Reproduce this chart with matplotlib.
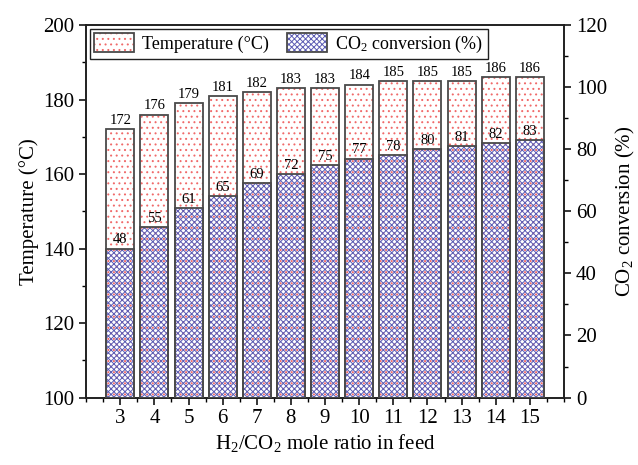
import matplotlib
matplotlib.use("Agg")
import matplotlib.pyplot as plt
from matplotlib.patches import Patch
from matplotlib.ticker import MultipleLocator
from matplotlib.legend_handler import HandlerTuple

plt.rcParams['font.family'] = ['Liberation Serif', 'DejaVu Serif']
plt.rcParams['mathtext.fontset'] = 'custom'
plt.rcParams['mathtext.rm'] = 'Liberation Serif'
plt.rcParams['mathtext.it'] = 'Liberation Serif:italic'
plt.rcParams['hatch.linewidth'] = 0.7

ratios = [3, 4, 5, 6, 7, 8, 9, 10, 11, 12, 13, 14, 15]
temperature = [172, 176, 179, 181, 182, 183, 183, 184, 185, 185, 185, 186, 186]
conversion = [48, 55, 61, 65, 69, 72, 75, 77, 78, 80, 81, 82, 83]

red = '#f06a6a'
blue = '#5c5cb4'
edge = '#4a4a4a'
width = 0.82
red_hatch = '...'
blue_hatch = 'xxxxxx'

fig = plt.figure(figsize=(6.38, 4.65), dpi=100)
ax = fig.add_axes([0.135, 0.145, 0.749, 0.801])
ax2 = ax.twinx()

# temperature bars (left axis, from 100)
tb = [t - 100 for t in temperature]
ax.bar(ratios, tb, bottom=100, width=width, facecolor='white',
       edgecolor=red, hatch=red_hatch, linewidth=0, zorder=2)
ax.bar(ratios, tb, bottom=100, width=width, facecolor='none',
       edgecolor=edge, linewidth=1.3, zorder=3)
for x, t in zip(ratios, temperature):
    ax.text(x, t + 0.6, str(t), ha='center', va='bottom', fontsize=10.5, zorder=6)

# conversion bars (right axis)
ax2.bar(ratios, conversion, width=width, facecolor='none',
        edgecolor=blue, hatch=blue_hatch, linewidth=0, zorder=2)
ax2.bar(ratios, conversion, width=width, facecolor='none',
        edgecolor=edge, linewidth=1.3, zorder=3)
for x, c in zip(ratios, conversion):
    ax2.text(x, c + 0.7, str(c), ha='center', va='bottom', fontsize=10.5, zorder=6)

ax.set_xlim(2, 16)
ax.set_ylim(100, 200)
ax2.set_ylim(0, 120)
ax.set_xticks(ratios)
ax.xaxis.set_minor_locator(MultipleLocator(0.5))
ax.yaxis.set_major_locator(MultipleLocator(20))
ax.yaxis.set_minor_locator(MultipleLocator(10))
ax2.yaxis.set_major_locator(MultipleLocator(20))
ax2.yaxis.set_minor_locator(MultipleLocator(10))

for a in (ax, ax2):
    a.tick_params(which='major', direction='out', length=5, width=1.1, labelsize=15)
    a.tick_params(which='minor', direction='out', length=3, width=1.0)
    for s in a.spines.values():
        s.set_linewidth(1.2)
        s.set_color('#202020')
ax.tick_params(axis='x', which='major', pad=3)

ax.set_xlabel(r'H$_2$/CO$_2$ mole ratio in feed', fontsize=15, labelpad=3)
ax.set_ylabel('Temperature (°C)', fontsize=15, labelpad=3)
ax2.set_ylabel(r'CO$_2$ conversion (%)', fontsize=15, labelpad=5)

h1 = (Patch(facecolor='white', edgecolor=red, hatch=red_hatch, linewidth=0),
      Patch(facecolor='none', edgecolor=edge, linewidth=1.3))
h2 = (Patch(facecolor='none', edgecolor=blue, hatch=blue_hatch, linewidth=0),
      Patch(facecolor='none', edgecolor=edge, linewidth=1.3))
leg = ax2.legend([h1, h2], ['Temperature (°C)', r'CO$_2$ conversion (%)'],
                 handler_map={tuple: HandlerTuple(ndivide=1)},
                 loc='upper left', ncol=2, fontsize=13, frameon=True,
                 fancybox=False, edgecolor='#202020', framealpha=1,
                 handlelength=2.2, handleheight=1.2, columnspacing=1.0,
                 borderaxespad=0.2, borderpad=0.25, handletextpad=0.45)
leg.get_frame().set_linewidth(1.0)
leg.set_zorder(10)

fig.savefig('out.png', dpi=100)
